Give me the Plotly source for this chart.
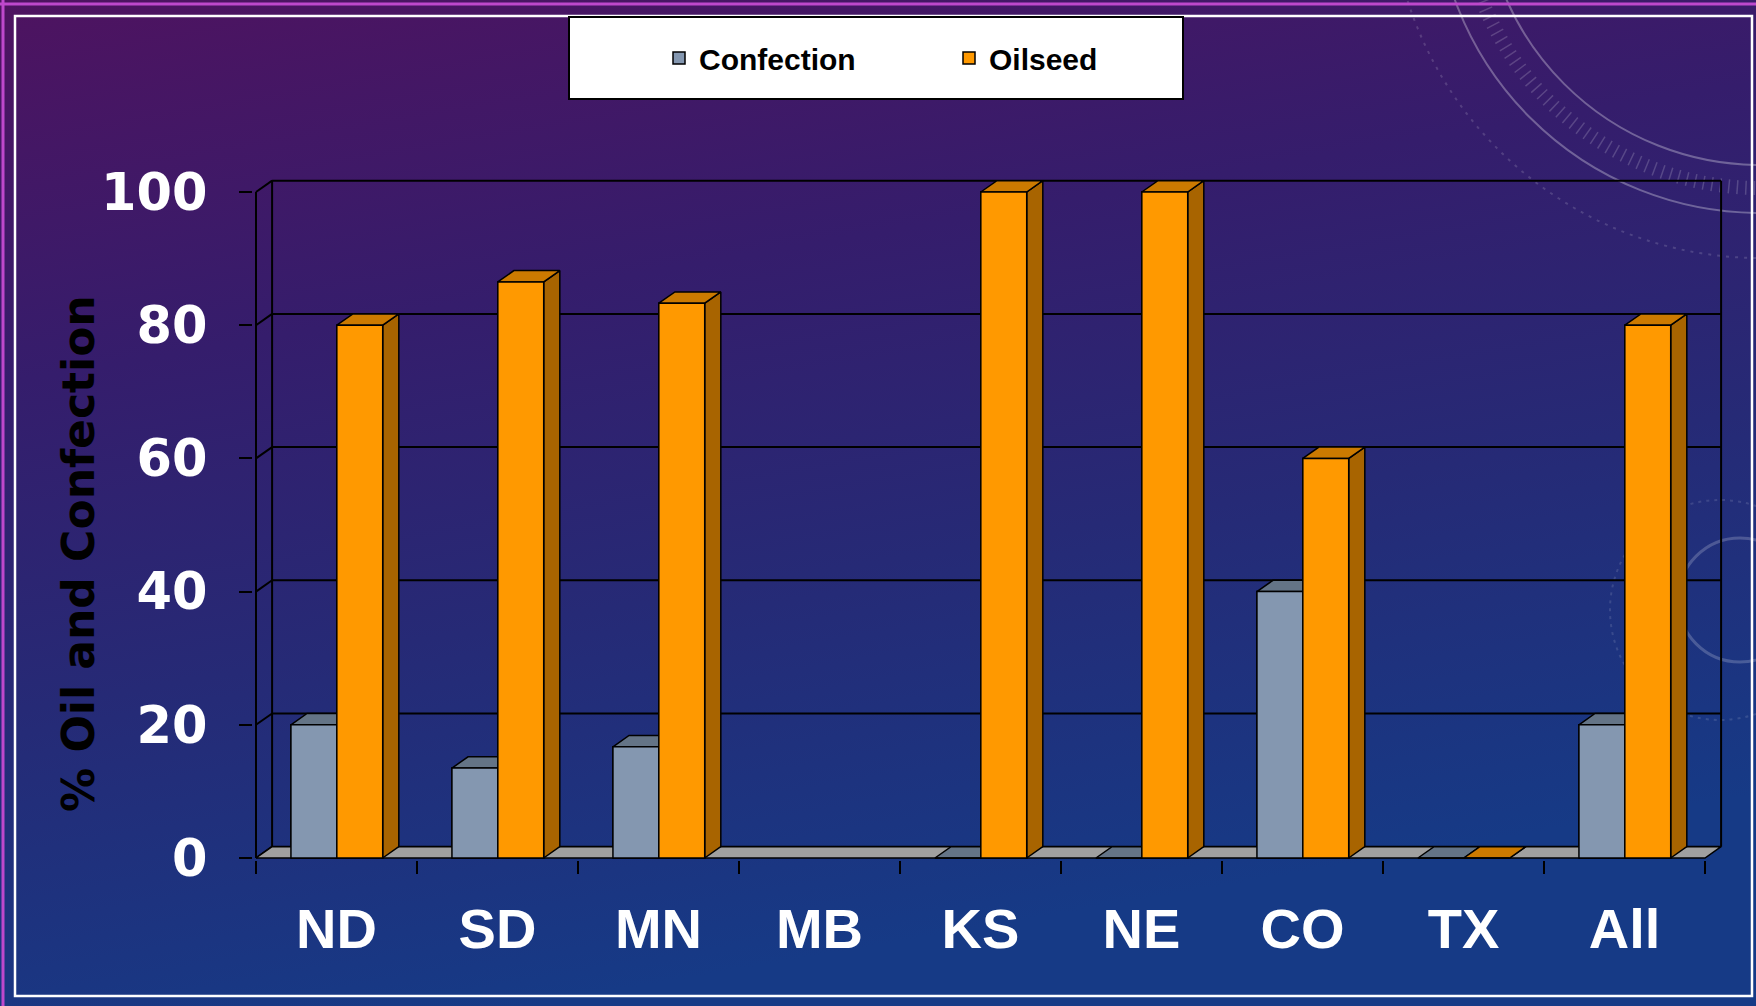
import base64
import plotly.graph_objects as go

# ---------------- data ----------------
categories = ["ND", "SD", "MN", "MB", "KS", "NE", "CO", "TX", "All"]
confection = [20, 13.5, 16.7, None, 0, 0, 40, 0, 20]
oilseed = [80, 86.5, 83.3, None, 100, 100, 60, 0, 80]
y_ticks = [0, 20, 40, 60, 80, 100]

# ---------------- geometry / style ----------------
W, H = 1756, 1006
DX, DY = 0.1, 1.7          # 3-D depth offset in data units
BAR_W = 0.285
CONF_OFF = 0.217
OIL_OFF = CONF_OFF + BAR_W
N = len(categories)
YMAX = y_ticks[-1]

X0_PX, XUNIT = 256.0, 161.0      # pixel of x=0, px per category
Y0_PX, YUNIT = 858.0, 6.66       # pixel of y=0, px per unit
XR = [-0.02, 9.14]
YR = [-0.3, 103]

xdom = [(X0_PX + XR[0] * XUNIT) / W, (X0_PX + XR[1] * XUNIT) / W]
ydom = [1 - (Y0_PX - YR[0] * YUNIT) / H, 1 - (Y0_PX - YR[1] * YUNIT) / H]

COL = {
    "conf_front": "#8497b0", "conf_top": "#647486", "conf_side": "#56657a",
    "oil_front": "#ff9900", "oil_top": "#cc7a00", "oil_side": "#a86400",
}


def polys(values, off, kind):
    xs, ys = [], []
    for i, v in enumerate(values):
        if v is None:
            continue
        l = i + off
        r = l + BAR_W
        if kind == "front":
            pts = [(l, 0), (r, 0), (r, v), (l, v), (l, 0)]
        elif kind == "side":
            pts = [(r, 0), (r + DX, DY), (r + DX, v + DY), (r, v), (r, 0)]
        else:
            pts = [(l, v), (r, v), (r + DX, v + DY), (l + DX, v + DY), (l, v)]
        for px, py in pts:
            xs.append(px)
            ys.append(py)
        xs.append(None)
        ys.append(None)
    return xs, ys


fig = go.Figure()

# legend-bearing bar traces (front faces)
fig.add_trace(go.Bar(
    name="Confection", x=[i + CONF_OFF + BAR_W / 2 for i in range(N)], y=confection,
    width=BAR_W, marker=dict(color=COL["conf_front"], line=dict(color="black", width=1.5))))
fig.add_trace(go.Bar(
    name="Oilseed", x=[i + OIL_OFF + BAR_W / 2 for i in range(N)], y=oilseed,
    width=BAR_W, marker=dict(color=COL["oil_front"], line=dict(color="black", width=1.5))))

# back wall grid, side wall diagonals, axis lines
gx, gy = [], []
for v in y_ticks:
    gx += [DX, N + DX, None, 0, DX, None]
    gy += [v + DY, v + DY, None, v, v + DY, None]
gx += [DX, DX, None, N + DX, N + DX, None, 0, 0, None]
gy += [DY, YMAX + DY, None, DY, YMAX + DY, None, 0, YMAX, None]
fig.add_trace(go.Scatter(x=gx, y=gy, mode="lines", line=dict(color="black", width=2),
                         showlegend=False, hoverinfo="skip"))

# floor
fig.add_trace(go.Scatter(x=[0, N, N + DX, DX, 0], y=[0, 0, DY, DY, 0], mode="lines",
                         fill="toself", fillcolor="#a0a0a0",
                         line=dict(color="black", width=1.5), showlegend=False, hoverinfo="skip"))

# 3-D bar faces
for vals, off, key in [(confection, CONF_OFF, "conf"), (oilseed, OIL_OFF, "oil")]:
    for kind in ["side", "top", "front"]:
        xs, ys = polys(vals, off, kind)
        fig.add_trace(go.Scatter(x=xs, y=ys, mode="lines", fill="toself",
                                 fillcolor=COL[f"{key}_{kind}"],
                                 line=dict(color="black", width=1.5),
                                 showlegend=False, hoverinfo="skip"))

# ---------------- background picture ----------------
svg = (
    f'<svg xmlns="http://www.w3.org/2000/svg" width="{W}" height="{H}" '
    f'viewBox="0 0 {W} {H}" preserveAspectRatio="none">'
    '<defs><linearGradient id="g" x1="0" y1="0" x2="0.3" y2="1">'
    '<stop offset="0" stop-color="#4e1360"/>'
    '<stop offset="0.35" stop-color="#351d6c"/>'
    '<stop offset="0.65" stop-color="#262a76"/>'
    '<stop offset="1" stop-color="#163a86"/>'
    '</linearGradient></defs>'
    f'<rect width="{W}" height="{H}" fill="url(#g)"/>'
    '<circle cx="1760" cy="-112" r="325" fill="none" stroke="white" stroke-opacity="0.3" stroke-width="2"/>'
    '<circle cx="1760" cy="-112" r="277" fill="none" stroke="white" stroke-opacity="0.3" stroke-width="2"/>'
    '<circle cx="1760" cy="-112" r="300" fill="none" stroke="white" stroke-opacity="0.18" '
    'stroke-width="14" stroke-dasharray="1.5 7"/>'
    '<circle cx="1760" cy="-112" r="370" fill="none" stroke="white" stroke-opacity="0.15" '
    'stroke-width="2" stroke-dasharray="3 6"/>'
    '<circle cx="1720" cy="610" r="110" fill="none" stroke="white" stroke-opacity="0.12" '
    'stroke-width="2" stroke-dasharray="3 5"/>'
    '<circle cx="1740" cy="600" r="62" fill="none" stroke="white" stroke-opacity="0.2" stroke-width="3"/>'
    '</svg>'
)
src = "data:image/svg+xml;base64," + base64.b64encode(svg.encode()).decode()

shapes = [
    dict(type="line", xref="paper", yref="paper", x0=0, x1=1, y0=1 - 4 / H, y1=1 - 4 / H,
         line=dict(color="#be48cc", width=3), layer="below"),
    dict(type="line", xref="paper", yref="paper", x0=3 / W, x1=3 / W, y0=0, y1=1,
         line=dict(color="#be48cc", width=3), layer="below"),
    dict(type="rect", xref="paper", yref="paper", x0=15 / W, x1=1752 / W, y0=1 - 996 / H, y1=1 - 16 / H,
         line=dict(color="white", width=2.5), fillcolor="rgba(0,0,0,0)", layer="below"),
    dict(type="rect", xref="paper", yref="paper", x0=569 / W, x1=1183 / W, y0=1 - 99 / H, y1=1 - 17 / H,
         line=dict(color="black", width=2), fillcolor="white", layer="below"),
]

fig.update_layout(
    width=W, height=H, margin=dict(l=0, r=0, t=0, b=0, autoexpand=False),
    paper_bgcolor="#163a86", plot_bgcolor="rgba(0,0,0,0)",
    barmode="overlay", showlegend=True,
    images=[dict(source=src, xref="paper", yref="paper", x=0, y=1, sizex=1, sizey=1,
                 sizing="stretch", layer="below", xanchor="left", yanchor="top")],
    shapes=shapes,
    legend=dict(orientation="h", x=(679 - 20) / W, xanchor="left", y=1 - 58 / H, yanchor="middle",
                bgcolor="rgba(0,0,0,0)", borderwidth=0, entrywidth=245, entrywidthmode="pixels",
                font=dict(family="Liberation Sans, Arial, sans-serif", size=30, color="black", weight="bold")),
    xaxis=dict(domain=xdom, range=XR, tickmode="array", automargin=False,
               tickvals=[i + 0.5 for i in range(N)], ticktext=categories, ticks="",
               showgrid=False, zeroline=False, showline=False, ticklabelstandoff=31,
               tickfont=dict(family="Liberation Sans, Arial, sans-serif", size=56, color="white", weight="bold"),
               minor=dict(tickmode="array", tickvals=list(range(N + 1)), ticks="outside", ticklen=13,
                          tickwidth=2, tickcolor="black", showgrid=False)),
    yaxis=dict(domain=ydom, range=YR, tickmode="array", tickvals=y_ticks, ticks="outside",
               automargin=False,
               ticklen=13, tickwidth=2, tickcolor="black", showgrid=False, zeroline=False,
               showline=False, ticklabelstandoff=21,
               tickfont=dict(family="DejaVu Sans, Verdana, sans-serif", size=51, color="white", weight="bold")),
    annotations=[dict(text="% Oil and Confection", xref="paper", yref="paper", x=78 / W, y=1 - 554 / H,
                      xanchor="center", yanchor="middle", textangle=-90, showarrow=False,
                      font=dict(family="DejaVu Sans, Verdana, sans-serif", size=44, color="black", weight="bold"))],
)

fig.write_html(
    "out.html",
    config={"displayModeBar": False},
    post_script="document.body.style.margin='0';document.body.style.overflow='hidden';",
)
